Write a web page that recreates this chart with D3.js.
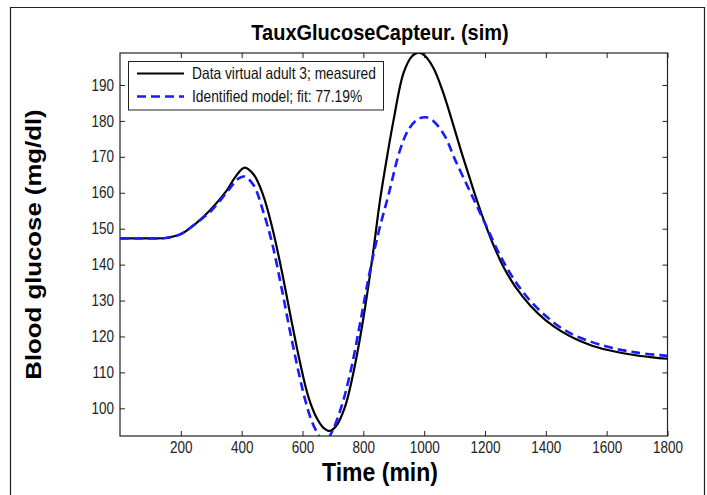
<!DOCTYPE html>
<html>
<head>
<meta charset="utf-8">
<script src="https://cdn.jsdelivr.net/npm/d3@7"></script>
<style>
  body { margin: 0; background: #fff; }
  text { font-family: "Liberation Sans", Arial, sans-serif; }
</style>
</head>
<body>
<svg id="chart" width="707" height="495"></svg>
<script>
// measured glucose (black) and identified model output (blue dashed)
const measuredTime    = [0, 100, 150, 200, 250, 300, 350, 380, 410, 440, 470, 500, 530, 560, 590, 620, 650, 670, 689, 710, 740, 770, 800, 830, 855, 880, 900, 932, 960, 981, 1000, 1030, 1060, 1090, 1120, 1150, 1175, 1200, 1230, 1260, 1300, 1350, 1400, 1450, 1500, 1550, 1600, 1650, 1700, 1750, 1800];
const measuredGlucose = [147.3, 147.3, 147.4, 148.5, 151.5, 155.5, 160.5, 164.5, 167, 165, 159.5, 150.5, 139, 126, 113.5, 103, 96.8, 94.5, 93.7, 95, 100.5, 111, 125, 142, 158, 171, 180.5, 193.3, 198, 199, 198.3, 194.8, 188.5, 180.5, 172, 164, 157.5, 151.5, 145, 139.5, 133.8, 128.5, 124.5, 121.5, 119.2, 117.5, 116.3, 115.4, 114.7, 114.2, 113.8];

const modelTime    = [0, 100, 150, 200, 250, 300, 350, 390, 410, 440, 470, 500, 530, 560, 590, 609, 630, 650, 668, 685, 700, 730, 760, 790, 820, 850, 883, 921, 950, 980, 1006, 1030, 1069, 1100, 1151, 1200, 1250, 1300, 1350, 1400, 1450, 1500, 1600, 1700, 1800];
const modelGlucose = [147.3, 147.3, 147.4, 148.5, 151.5, 155, 160, 164, 164.5, 162, 155, 146, 134, 121, 109, 102.3, 96.5, 93, 90.8, 91.8, 94, 101, 111, 124, 137.5, 149, 159.5, 172, 177.8, 180.5, 181, 180, 175.6, 169.5, 160.3, 151.5, 142.5, 135.3, 129.8, 125.7, 122.4, 120.1, 117.2, 115.5, 114.6];

const xTicks = [200, 400, 600, 800, 1000, 1200, 1400, 1600, 1800];
const yTicks = [100, 110, 120, 130, 140, 150, 160, 170, 180, 190];
const legendLabels = ['Data virtual adult 3; measured', 'Identified model; fit: 77.19%'];

const svg = d3.select('#chart');
const plotL = 120, plotR = 667.5, plotT = 53, plotB = 436;
const labelCx = 380; // centre used by the title and the x label

const x = d3.scaleLinear().domain([0, 1800]).range([plotL, plotR]);
const y = d3.scaleLinear().domain([92.3, 198.9]).range([plotB, plotT]);

// outer frame of the figure
svg.append('path')
  .attr('d', 'M10.5,495 V7.5 H704.5 V495')
  .attr('fill', 'none').attr('stroke', '#222').attr('stroke-width', 1.2);

svg.append('defs').append('clipPath').attr('id', 'plotclip')
  .append('rect').attr('x', plotL).attr('y', plotT).attr('width', plotR - plotL).attr('height', plotB - plotT);

// the source image is a bit tall, so the text gets a small vertical stretch
const tickFont = g => g.selectAll('text')
  .attr('font-size', 13.5).attr('fill', '#222')
  .style('font-family', '"Liberation Sans", Arial, sans-serif');

svg.append('g').attr('transform', `translate(0,${plotB})`)
  .call(d3.axisBottom(x).tickValues(xTicks).tickSizeInner(-5).tickSizeOuter(0).tickPadding(5).tickFormat(d3.format('d')))
  .call(tickFont)
  .call(g => g.selectAll('text').attr('transform', 'scale(1,1.18)'))
  .call(g => g.select('.domain').remove());
svg.append('g').attr('transform', `translate(0,${plotT})`)
  .call(d3.axisTop(x).tickValues(xTicks).tickSizeInner(-5).tickSizeOuter(0).tickFormat(''))
  .call(g => g.select('.domain').remove());
svg.append('g').attr('transform', `translate(${plotL},0)`)
  .call(d3.axisLeft(y).tickValues(yTicks).tickSizeInner(-5).tickSizeOuter(0).tickPadding(6))
  .call(tickFont)
  .call(g => g.selectAll('text').attr('transform', 'scale(1,1.18)'))
  .call(g => g.select('.domain').remove());
svg.append('g').attr('transform', `translate(${plotR},0)`)
  .call(d3.axisRight(y).tickValues(yTicks).tickSizeInner(-5).tickSizeOuter(0).tickFormat(''))
  .call(g => g.select('.domain').remove());

svg.selectAll('.tick line').attr('stroke', '#222');

svg.append('rect')
  .attr('x', plotL).attr('y', plotT).attr('width', plotR - plotL).attr('height', plotB - plotT)
  .attr('fill', 'none').attr('stroke', '#222').attr('stroke-width', 1.2);

// curves
const line = d3.line().x(d => x(d[0])).y(d => y(d[1])).curve(d3.curveCatmullRom);
const plot = svg.append('g').attr('clip-path', 'url(#plotclip)');

plot.append('path')
  .datum(measuredTime.map((t, i) => [t, measuredGlucose[i]]))
  .attr('d', line)
  .attr('fill', 'none').attr('stroke', '#000').attr('stroke-width', 2.2);

plot.append('path')
  .datum(modelTime.map((t, i) => [t, modelGlucose[i]]))
  .attr('d', line)
  .attr('fill', 'none').attr('stroke', '#1a1aff').attr('stroke-width', 2.6)
  .attr('stroke-dasharray', '9,5');

// legend
const lg = svg.append('g');
lg.append('rect')
  .attr('x', 128.5).attr('y', 61.5).attr('width', 255).attr('height', 48.5)
  .attr('fill', '#fff').attr('stroke', '#222').attr('stroke-width', 1);
legendLabels.forEach((label, i) => {
  const ly = 73.5 + i * 23;
  lg.append('line')
    .attr('x1', 137).attr('x2', 184).attr('y1', ly).attr('y2', ly)
    .attr('stroke', i === 0 ? '#000' : '#1a1aff')
    .attr('stroke-width', i === 0 ? 2.2 : 2.6)
    .attr('stroke-dasharray', i === 0 ? null : '9,5');
  lg.append('text')
    .attr('transform', `translate(192,${ly + 5.5}) scale(1,1.15)`)
    .attr('font-size', 13.8).attr('fill', '#111')
    .text(label);
});

// titles
svg.append('text')
  .attr('transform', `translate(${labelCx},40) scale(1,1.12)`)
  .attr('text-anchor', 'middle').attr('font-size', 20).attr('font-weight', 'bold')
  .text('TauxGlucoseCapteur. (sim)');

svg.append('text')
  .attr('transform', `translate(${labelCx},481) scale(1,1.12)`)
  .attr('text-anchor', 'middle').attr('font-size', 23).attr('font-weight', 'bold')
  .text('Time (min)');

svg.append('text')
  .attr('transform', `translate(41,${(plotT + plotB) / 2}) rotate(-90) scale(1.12,1)`)
  .attr('text-anchor', 'middle').attr('font-size', 23).attr('font-weight', 'bold')
  .text('Blood glucose (mg/dl)');
</script>
</body>
</html>
